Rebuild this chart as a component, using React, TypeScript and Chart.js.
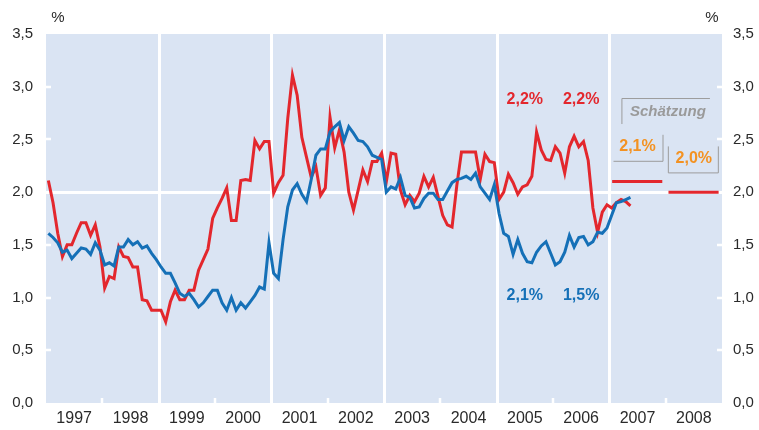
import React, { useEffect, useRef } from 'react';
import { Chart, registerables } from 'chart.js';

Chart.register(...registerables);

// ---------- data ----------
const START_YEAR = 1997;
const YEARS = [1997, 1998, 1999, 2000, 2001, 2002, 2003, 2004, 2005, 2006, 2007, 2008];
const YEAR_LABELS = ['1997', '1998', '1999', '2000', '2001', '2002', '2003', '2004', '2005', '2006', '2007', '2008'];
const Y_TICKS = [0, 0.5, 1, 1.5, 2, 2.5, 3, 3.5];
const Y_TICK_LABELS = ['0,0', '0,5', '1,0', '1,5', '2,0', '2,5', '3,0', '3,5'];
const GRID_YEARS = [1999, 2001, 2003, 2005, 2007];
const MINOR_TICK_YEARS = [1998, 2000, 2002, 2004, 2006, 2008];

// monthly values from Jan 1997
const RED_VALUES = [
  2.11, 1.90, 1.61, 1.39, 1.50, 1.50, 1.61, 1.71, 1.71, 1.59, 1.69, 1.48,
  1.09, 1.20, 1.18, 1.48, 1.39, 1.38, 1.29, 1.29, 0.98, 0.97, 0.88, 0.88,
  0.88, 0.77, 0.96, 1.07, 0.98, 0.98, 1.07, 1.07, 1.26, 1.36, 1.46, 1.75,
  1.85, 1.94, 2.04, 1.73, 1.73, 2.11, 2.12, 2.11, 2.49, 2.41, 2.48, 2.48,
  1.99, 2.09, 2.16, 2.70, 3.11, 2.92, 2.52, 2.33, 2.14, 2.24, 1.97, 2.04,
  2.71, 2.42, 2.59, 2.38, 2.00, 1.83, 2.02, 2.21, 2.10, 2.29, 2.29, 2.37,
  2.10, 2.37, 2.36, 2.02, 1.88, 1.97, 1.91, 1.99, 2.15, 2.05, 2.14, 1.96,
  1.78, 1.69, 1.67, 2.06, 2.38, 2.38, 2.38, 2.38, 2.12, 2.36, 2.29, 2.28,
  1.93, 2.00, 2.17, 2.09, 1.98, 2.05, 2.07, 2.15, 2.57, 2.40, 2.31, 2.30,
  2.43, 2.37, 2.18, 2.43, 2.53, 2.43, 2.48, 2.30, 1.85, 1.62, 1.81, 1.88,
  1.85, 1.90, 1.93, 1.91, 1.87,
];
const BLUE_VALUES = [
  1.61, 1.57, 1.52, 1.43, 1.45, 1.37, 1.42, 1.47, 1.46, 1.41, 1.52, 1.45,
  1.31, 1.33, 1.30, 1.48, 1.48, 1.55, 1.50, 1.53, 1.47, 1.49, 1.42, 1.36,
  1.29, 1.23, 1.23, 1.14, 1.04, 1.01, 1.04, 0.98, 0.91, 0.95, 1.01, 1.07,
  1.07, 0.95, 0.88, 1.00, 0.88, 0.95, 0.90, 0.96, 1.02, 1.10, 1.08, 1.52,
  1.23, 1.18, 1.55, 1.86, 2.02, 2.08, 1.98, 1.91, 2.12, 2.35, 2.41, 2.41,
  2.57, 2.62, 2.66, 2.49, 2.62, 2.56, 2.49, 2.48, 2.43, 2.35, 2.33, 2.31,
  2.00, 2.05, 2.03, 2.14, 1.97, 1.95, 1.85, 1.86, 1.94, 1.99, 1.99, 1.93,
  1.93, 2.01, 2.09, 2.12, 2.13, 2.15, 2.12, 2.18, 2.05, 1.99, 1.93, 2.07,
  1.80, 1.61, 1.58, 1.41, 1.55, 1.42, 1.34, 1.33, 1.43, 1.49, 1.53, 1.42,
  1.31, 1.34, 1.43, 1.59, 1.48, 1.57, 1.58, 1.50, 1.53, 1.62, 1.61, 1.66,
  1.78, 1.90, 1.91, 1.93, 1.95,
];

const FORECAST_YEARS = [2007, 2008];
const FORECAST_VALUES = [2.1, 2.0];

const RED_ANNUAL_LABELS = ['2,2%', '2,2%'];
const BLUE_ANNUAL_LABELS = ['2,1%', '1,5%'];
const ANNUAL_LABEL_YEARS = [2005, 2006];
const FORECAST_LABELS = ['2,1%', '2,0%'];
const ESTIMATE_LABEL = 'Schätzung';
const UNIT_LABEL = '%';

// ---------- styles ----------
const RED = '#e3272d';
const BLUE = '#1570b7';
const ORANGE = '#f39222';
const GREY_TEXT = '#9a9a9a';
const BOX_LINE = '#9c9c9c';
const PLOT_BG = '#dae4f3';
const TEXT = '#2a2a2a';
const FONT = '"Liberation Sans", Arial, Helvetica, sans-serif';

const monthPoints = (vals: number[]) =>
  vals.map((v, i) => ({ x: START_YEAR + (i + 0.5) / 12, y: v }));

const backgroundPlugin = {
  id: 'plotBackground',
  beforeDatasetsDraw(chart: any) {
    const { ctx, chartArea: a, scales } = chart;
    const x = scales.x;
    const y = scales.y;
    ctx.save();
    ctx.fillStyle = PLOT_BG;
    ctx.fillRect(a.left, a.top, a.right - a.left, a.bottom - a.top);
    ctx.strokeStyle = '#ffffff';
    ctx.lineWidth = 3;
    ctx.beginPath();
    for (const yr of GRID_YEARS) {
      const px = Math.round(x.getPixelForValue(yr)) + 0.5;
      ctx.moveTo(px, a.top);
      ctx.lineTo(px, a.bottom);
    }
    const p2 = Math.round(y.getPixelForValue(2)) + 0.5;
    ctx.moveTo(a.left, p2);
    ctx.lineTo(a.right, p2);
    ctx.stroke();
    ctx.lineWidth = 2.5;
    ctx.beginPath();
    for (const yr of MINOR_TICK_YEARS) {
      const px = Math.round(x.getPixelForValue(yr));
      ctx.moveTo(px, a.bottom);
      ctx.lineTo(px, a.bottom - 5);
    }
    for (const v of Y_TICKS) {
      if (v === 0 || v === 2 || v === 3.5) continue;
      const py = Math.round(y.getPixelForValue(v));
      ctx.moveTo(a.left, py);
      ctx.lineTo(a.left + 5, py);
      ctx.moveTo(a.right - 5, py);
      ctx.lineTo(a.right, py);
    }
    ctx.stroke();
    ctx.restore();
  },
};

const annotationPlugin = {
  id: 'annotations',
  afterDraw(chart: any) {
    const { ctx, chartArea: a, scales } = chart;
    const x = scales.x;
    const y = scales.y;
    ctx.save();
    ctx.textAlign = 'center';
    ctx.textBaseline = 'middle';

    // unit labels
    ctx.fillStyle = TEXT;
    ctx.font = `15px ${FONT}`;
    ctx.fillText(UNIT_LABEL, a.left + 12, 18);
    ctx.fillText(UNIT_LABEL, a.right - 10, 18);

    ctx.font = `bold 16px ${FONT}`;
    ANNUAL_LABEL_YEARS.forEach((yr, i) => {
      const px = x.getPixelForValue(yr + 0.5);
      ctx.fillStyle = RED;
      ctx.fillText(RED_ANNUAL_LABELS[i], px, y.getPixelForValue(2.88));
      ctx.fillStyle = BLUE;
      ctx.fillText(BLUE_ANNUAL_LABELS[i], px, y.getPixelForValue(1.02));
    });

    // forecast labels
    ctx.fillStyle = ORANGE;
    const f1x = x.getPixelForValue(2007.5);
    const f1y = y.getPixelForValue(2.43);
    const f2x = x.getPixelForValue(2008.5);
    const f2y = y.getPixelForValue(2.32);
    ctx.fillText(FORECAST_LABELS[0], f1x, f1y);
    ctx.fillText(FORECAST_LABELS[1], f2x, f2y);

    // estimate label
    const ex = x.getPixelForValue(2008.04);
    const ey = y.getPixelForValue(2.76);
    ctx.fillStyle = GREY_TEXT;
    ctx.font = `italic bold 15px ${FONT}`;
    ctx.fillText(ESTIMATE_LABEL, ex, ey);

    // box lines
    ctx.strokeStyle = BOX_LINE;
    ctx.lineWidth = 1;
    ctx.beginPath();
    // Schätzung: top + left
    ctx.moveTo(ex - 46, ey + 12);
    ctx.lineTo(ex - 46, ey - 13.5);
    ctx.lineTo(ex + 42, ey - 13.5);
    // 2,1%: right + bottom
    ctx.moveTo(f1x + 25.5, f1y - 12);
    ctx.lineTo(f1x + 25.5, f1y + 14.5);
    ctx.lineTo(f1x - 24, f1y + 14.5);
    // 2,0%: left + bottom + right
    ctx.moveTo(f2x - 25.5, f2y - 12);
    ctx.lineTo(f2x - 25.5, f2y + 14.5);
    ctx.lineTo(f2x + 24.5, f2y + 14.5);
    ctx.lineTo(f2x + 24.5, f2y - 12);
    ctx.stroke();
    ctx.restore();
  },
};

export default function App() {
  const canvasRef = useRef<HTMLCanvasElement | null>(null);

  useEffect(() => {
    document.body.style.margin = '0';
    const canvas = canvasRef.current;
    if (!canvas) return;

    const forecastSets = FORECAST_YEARS.map((yr, i) => ({
      label: 'Schätzung ' + yr,
      data: [
        { x: yr + 0.05, y: FORECAST_VALUES[i] },
        { x: yr + 0.94, y: FORECAST_VALUES[i] },
      ],
      borderColor: RED,
      borderWidth: 3,
      pointRadius: 0,
      borderCapStyle: 'butt' as const,
    }));

    const chart = new Chart(canvas, {
      type: 'line',
      data: {
        datasets: [
          {
            label: 'blau',
            data: monthPoints(BLUE_VALUES),
            borderColor: BLUE,
            borderWidth: 3,
            pointRadius: 0,
            tension: 0,
          },
          {
            label: 'rot',
            data: monthPoints(RED_VALUES),
            borderColor: RED,
            borderWidth: 3,
            pointRadius: 0,
            tension: 0,
          },
          ...forecastSets,
        ],
      },
      options: {
        responsive: false,
        animation: false,
        events: [],
        layout: { padding: { top: 34, left: 0, right: 0, bottom: 0 } },
        plugins: {
          legend: { display: false },
          tooltip: { enabled: false },
        },
        scales: {
          x: {
            type: 'linear',
            min: 1997,
            max: 2009,
            grid: { display: false, drawTicks: false },
            border: { display: false },
            afterBuildTicks: (scale: any) => {
              scale.ticks = YEARS.map((yr) => ({ value: yr + 0.5 }));
            },
            afterFit: (scale: any) => {
              scale.height = 27;
            },
            ticks: {
              autoSkip: false,
              maxRotation: 0,
              padding: 6,
              color: TEXT,
              font: { family: FONT, size: 16 },
              callback: (v: any) => YEAR_LABELS[YEARS.indexOf(Math.floor(Number(v)))],
            },
          },
          y: {
            type: 'linear',
            position: 'left',
            min: 0,
            max: 3.5,
            grid: { display: false, drawTicks: false },
            border: { display: false },
            afterBuildTicks: (scale: any) => {
              scale.ticks = Y_TICKS.map((v) => ({ value: v }));
            },
            afterFit: (scale: any) => {
              scale.width = 46;
            },
            ticks: {
              padding: 13,
              color: TEXT,
              font: { family: FONT, size: 15 },
              callback: (v: any) => Y_TICK_LABELS[Y_TICKS.indexOf(Number(v))],
            },
          },
          y2: {
            type: 'linear',
            position: 'right',
            min: 0,
            max: 3.5,
            grid: { display: false, drawTicks: false },
            border: { display: false },
            afterBuildTicks: (scale: any) => {
              scale.ticks = Y_TICKS.map((v) => ({ value: v }));
            },
            afterFit: (scale: any) => {
              scale.width = 37;
            },
            ticks: {
              padding: 11,
              color: TEXT,
              font: { family: FONT, size: 15 },
              callback: (v: any) => Y_TICK_LABELS[Y_TICKS.indexOf(Number(v))],
            },
          },
        },
      },
      plugins: [backgroundPlugin, annotationPlugin],
    } as any);

    return () => chart.destroy();
  }, []);

  return (
    <div style={{ width: 759, height: 430 }}>
      <canvas ref={canvasRef} width={759} height={430} style={{ display: 'block', width: 759, height: 430 }} />
    </div>
  );
}
